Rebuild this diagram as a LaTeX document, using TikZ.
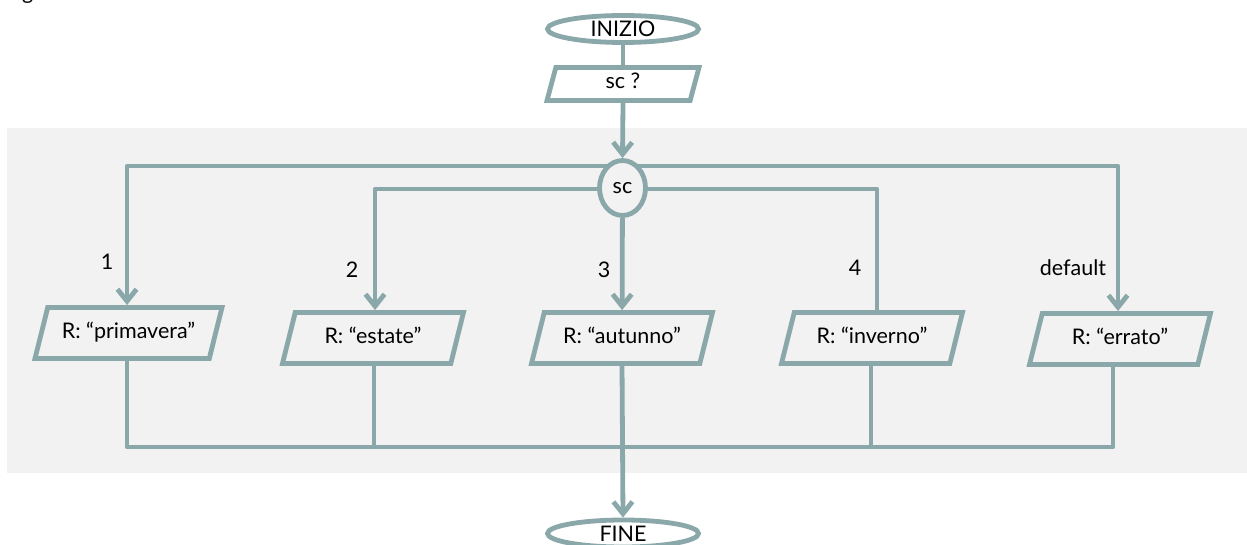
\documentclass[tikz,border=0pt]{standalone}
\usepackage{fontspec}
\setmainfont{Lato}
\usetikzlibrary{shapes.geometric,arrows.meta}
\definecolor{flow}{HTML}{8AA7A9}
\definecolor{panel}{HTML}{F2F2F2}
\pgfdeclarelayer{panellayer}
\pgfdeclarelayer{wires}
\pgfsetlayers{panellayer,wires,main}

\begin{document}
\begin{tikzpicture}[x=1pt,y=-1pt,
  font=\fontsize{21.5}{25}\selectfont,
  terminal/.style={ellipse, draw=flow, line width=4.8pt, fill=white, inner sep=0pt,
    minimum width=151, minimum height=27},
  iobox/.style={trapezium, trapezium left angle=76, trapezium right angle=104,
    trapezium stretches body=true, draw=flow, line width=4.8pt, fill=panel,
    text height=15pt, text depth=5pt, inner xsep=0pt, inner ysep=15.5pt,
    minimum width=181},
  selector/.style={ellipse, draw=flow, line width=4.8pt, fill=panel, inner sep=0pt,
    minimum width=46, minimum height=55},
  wire/.style={draw=flow, line width=4.8pt, line join=round},
  arr/.style={wire, -{Straight Barb[length=12pt,width=19pt]}},
  lbl/.style={inner sep=0pt, text=black}]

\useasboundingbox (0,0) rectangle (1247,545);

% shaded panel behind the switch
\begin{pgfonlayer}{panellayer}
  \fill[panel] (7,128) rectangle (1247,473);
\end{pgfonlayer}

% descender of the caption line above
\node[anchor=base west, inner sep=0pt] (gfrag) at (22,0) {g};

% flowchart nodes
\node[terminal] (start) at (623,29) {INIZIO};
\node[iobox, fill=white, minimum width=152, inner ysep=6.5pt,
      trapezium left angle=75, trapezium right angle=105] (input) at (623,84) {sc ?};
\node[selector] (sc) at (622.5,188) {sc};
\node[iobox, minimum width=187] (b1) at (128.5,333) {R: “primavera”};
\node[iobox] (b2) at (373,338) {R: “estate”};
\node[iobox] (b3) at (622,338) {R: “autunno”};
\node[iobox] (b4) at (872,338) {R: “inverno”};
\node[iobox] (b5) at (1120,339) {R: “errato”};
\node[terminal] (stop) at (623,533.5) {FINE};

% case labels
\node[lbl] (l1) at (107,262) {1};
\node[lbl] (l2) at (352,270) {2};
\node[lbl] (l3) at (604,270) {3};
\node[lbl] (l4) at (855,268) {4};
\node[lbl] (ld) at (1073,268) {default};

% rails
\coordinate (railA) at (622.5,166);
\coordinate (railB) at (622.5,189);
\coordinate (railC) at (623,447);

\begin{pgfonlayer}{wires}
  \draw[wire] (start) -- (input);
  \draw[arr] (input.south) -- (sc.north);
  \draw[arr] (railA) -| ([xshift=-1.5pt]b1.north);
  \draw[arr] (railA) -| ([xshift=-2pt]b5.north);
  \draw[arr] (railB) -| ([xshift=2pt]b2.north);
  \draw[wire] (railB) -| ([xshift=5pt]b4.north);
  \draw[arr] (sc) -- (b3);
  \draw[wire] ([xshift=-1.5pt]b1.south) |- (railC);
  \draw[wire] ([xshift=-7pt]b5.south) |- (railC);
  \draw[wire] ([xshift=1pt]b2.south) -- ([xshift=1pt]b2.south |- railC);
  \draw[wire] ([xshift=-1pt]b4.south) -- ([xshift=-1pt]b4.south |- railC);
  \draw[arr] (b3.south) -- (stop.north);
\end{pgfonlayer}
\end{tikzpicture}
\end{document}
